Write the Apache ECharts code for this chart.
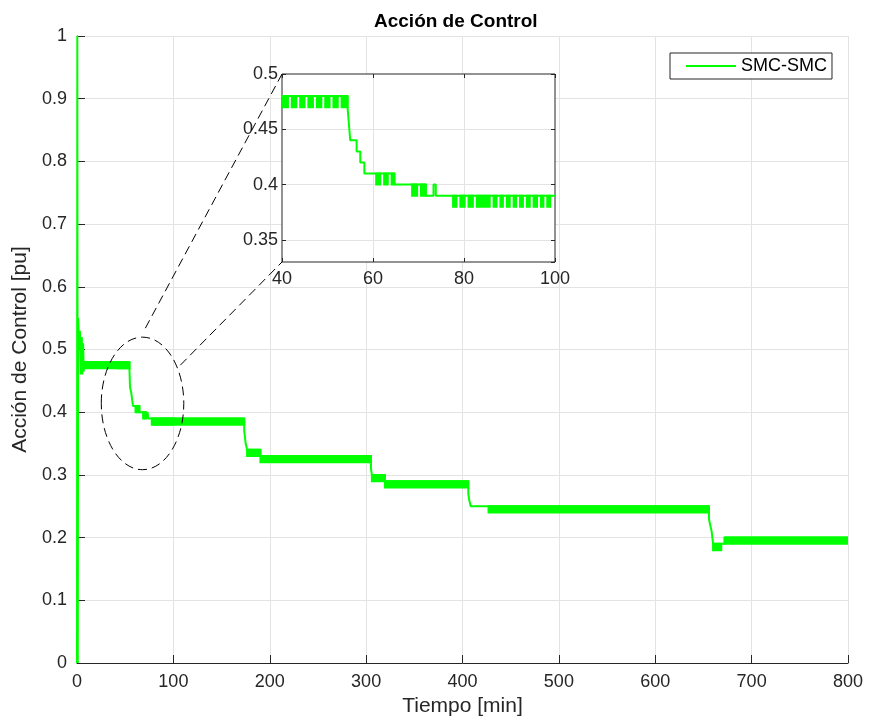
<!DOCTYPE html>
<html>
<head>
<meta charset="utf-8">
<title>Acción de Control</title>
<script src="https://cdn.jsdelivr.net/npm/echarts@6/dist/echarts.min.js"></script>
<style>
html, body { margin: 0; padding: 0; background: #fff; }
#chart { width: 869px; height: 727px; }
</style>
</head>
<body>
<div id="chart"></div>
<script>
// puntos de cambio de la accion de control (el valor se mantiene hasta el siguiente tiempo)
var traceT = [0, 0.3, 0.8, 1.2, 2.4, 3.0, 4.0, 5.0, 5.5, 6.3, 7.0, 7.3,
	54.4, 54.6, 54.8, 55.0, 56.4, 57.2, 58.1, 64.7, 71.6, 73.3, 73.8,
	173.5, 174.3, 175.0, 176.5, 190.3, 305, 306, 319.5, 406, 407, 408.5,
	655.7, 657, 658.5, 660, 668.5, 672, 800];
var traceV = [0, 1, 0, 0.55, 0.50, 0.53, 0.46, 0.52, 0.46, 0.51, 0.465, 0.48,
	0.47, 0.46, 0.45, 0.44, 0.43, 0.42, 0.41, 0.40, 0.39, 0.40, 0.39,
	0.37, 0.36, 0.35, 0.34, 0.33, 0.31, 0.30, 0.29, 0.27, 0.26, 0.25,
	0.23, 0.22, 0.21, 0.19, 0.19, 0.20, 0.20];

// zonas de chattering: la señal salta entre nivel bajo y alto
var bandStart = [7.3, 60.7, 68.6, 77.6, 176.5, 190.3, 306, 319.5, 427, 660, 672];
var bandEnd = [54.4, 64.7, 71.6, 173.5, 190.3, 305, 319.5, 406, 655.7, 668.5, 800];
var bandLow = [0.47, 0.40, 0.39, 0.38, 0.33, 0.32, 0.29, 0.28, 0.24, 0.18, 0.19];
var bandHigh = [0.48, 0.41, 0.40, 0.39, 0.34, 0.33, 0.30, 0.29, 0.25, 0.19, 0.20];

// pausas cortas del chattering (se queda en el nivel alto), visibles en el zoom
var notchTimes = [41.3, 43.15, 44.95, 46.8, 48.65, 50.45, 52.25, 61.6, 63.25, 69.7,
	78.35, 80.15, 81.95, 85.65, 87.15, 88.55, 90.05, 91.45, 92.95, 94.45, 96.05, 97.45, 98.95];
var notchLen = 0.85;

// zoom: ventana mostrada
var zoomX = [40, 100];
var zoomY = [0.33, 0.5];
// elipse de la zona ampliada (unidades de datos) y origen de las lineas
var ellipseC = [68, 0.414];
var ellipseR = [42.8, 0.1057];
var lineFrom = [[70.9, 0.534], [107.2, 0.475]];

var green = '#00ff00';
var axisColor = '#262626';
var gridColor = '#e3e3e3';
var font = '"Liberation Sans", Arial, Helvetica, sans-serif';

function traceData() {
	var res = [];
	for (var i = 0; i < traceT.length; i++) {
		res.push([traceT[i], traceV[i]]);
	}
	return res;
}

// trozos rellenos de las bandas (cortados en las pausas)
function bandPieces() {
	var res = [];
	for (var i = 0; i < bandStart.length; i++) {
		var cur = bandStart[i];
		var cuts = notchTimes.filter(function (t) {
			return t > bandStart[i] && t < bandEnd[i];
		});
		for (var j = 0; j < cuts.length; j++) {
			res.push([cur, cuts[j], bandLow[i], bandHigh[i]]);
			cur = cuts[j] + notchLen;
		}
		res.push([cur, bandEnd[i], bandLow[i], bandHigh[i]]);
	}
	return res;
}

function renderBand(params, api) {
	var p0 = api.coord([api.value(0), api.value(3)]);
	var p1 = api.coord([api.value(1), api.value(2)]);
	var cs = params.coordSys;
	var shape = echarts.graphic.clipRectByRect({
		x: p0[0], y: p0[1], width: p1[0] - p0[0], height: p1[1] - p0[1]
	}, {
		x: cs.x + 1, y: cs.y + 1, width: cs.width - 2, height: cs.height - 2
	});
	if (!shape) return;
	return {
		type: 'rect',
		shape: shape,
		style: { fill: green, stroke: green, lineWidth: 2 }
	};
}

var chart = echarts.init(document.getElementById('chart'));
var tickLabel = { color: axisColor, fontSize: 18, fontFamily: font };

chart.setOption({
	animation: false,
	backgroundColor: '#fff',
	title: {
		text: 'Acción de Control',
		left: 369,
		top: 7,
		textStyle: { color: '#000', fontSize: 19, fontWeight: 'bold', fontFamily: font }
	},
	legend: {
		data: [{ name: 'SMC-SMC', icon: 'rect' }],
		left: 670,
		top: 53,
		padding: [4, 5, 4, 16],
		itemWidth: 50,
		itemHeight: 2,
		borderColor: axisColor,
		borderWidth: 1,
		backgroundColor: '#fff',
		textStyle: { color: '#000', fontSize: 18, fontFamily: font }
	},
	grid: [
		{ left: 77, top: 36, width: 771, height: 627 },
		{ left: 282, top: 74, width: 273, height: 188, show: true, z: 3,
			backgroundColor: '#fff', borderColor: axisColor, borderWidth: 1 }
	],
	xAxis: [
		{
			gridIndex: 0, type: 'value', min: 0, max: 800, interval: 100,
			name: 'Tiempo [min]', nameLocation: 'middle', nameGap: 33,
			nameTextStyle: { color: axisColor, fontSize: 21, fontFamily: font },
			axisLine: { lineStyle: { color: axisColor } },
			axisTick: { inside: true, length: 8, lineStyle: { color: axisColor } },
			axisLabel: Object.assign({ margin: 10 }, tickLabel),
			splitLine: { show: true, showMinLine: false, lineStyle: { color: gridColor } }
		},
		{
			gridIndex: 1, type: 'value', min: zoomX[0], max: zoomX[1], interval: 20, z: 4,
			axisLine: { show: false },
			axisTick: { inside: true, length: 4, lineStyle: { color: axisColor } },
			axisLabel: Object.assign({ margin: 8 }, tickLabel),
			splitLine: { show: true, showMinLine: false, showMaxLine: false, lineStyle: { color: gridColor } }
		},
		{
			gridIndex: 1, type: 'value', position: 'top', min: zoomX[0], max: zoomX[1], interval: 20, z: 4,
			axisLine: { show: false },
			axisTick: { inside: true, length: 4, lineStyle: { color: axisColor } },
			axisLabel: { show: false },
			splitLine: { show: false }
		}
	],
	yAxis: [
		{
			gridIndex: 0, type: 'value', min: 0, max: 1, interval: 0.1,
			name: 'Acción de Control [pu]', nameLocation: 'middle', nameGap: 43,
			nameTextStyle: { color: axisColor, fontSize: 21, fontFamily: font },
			axisLine: { show: true, lineStyle: { color: axisColor } },
			axisTick: { show: true, inside: true, length: 8, lineStyle: { color: axisColor } },
			axisLabel: Object.assign({ margin: 10 }, tickLabel),
			splitLine: { show: true, showMinLine: false, lineStyle: { color: gridColor } }
		},
		{
			gridIndex: 1, type: 'value', min: zoomY[0], max: zoomY[1], splitNumber: 3, z: 4,
			axisLine: { show: false },
			axisTick: { show: true, inside: true, length: 4, lineStyle: { color: axisColor } },
			axisLabel: Object.assign({ margin: 4, showMinLabel: false }, tickLabel),
			splitLine: { show: true, showMinLine: false, showMaxLine: false, lineStyle: { color: gridColor } }
		},
		{
			gridIndex: 1, type: 'value', position: 'right', min: zoomY[0], max: zoomY[1], splitNumber: 3, z: 4,
			axisLine: { show: false },
			axisTick: { show: true, inside: true, length: 4, lineStyle: { color: axisColor } },
			axisLabel: { show: false },
			splitLine: { show: false }
		}
	],
	series: [
		{
			name: 'SMC-SMC',
			type: 'line',
			xAxisIndex: 0, yAxisIndex: 0,
			step: 'end',
			data: traceData(),
			showSymbol: false,
			symbol: 'none',
			lineStyle: { color: green, width: 2 },
			itemStyle: { color: green }
		},
		{
			name: 'bandas',
			type: 'custom',
			xAxisIndex: 0, yAxisIndex: 0,
			renderItem: renderBand,
			data: bandPieces(),
			encode: { x: [0, 1], y: [2, 3] },
			silent: true
		},
		{
			name: 'zoom',
			type: 'line',
			xAxisIndex: 1, yAxisIndex: 1,
			z: 5,
			step: 'end',
			data: traceData(),
			showSymbol: false,
			symbol: 'none',
			lineStyle: { color: green, width: 2 }
		},
		{
			name: 'zoom bandas',
			type: 'custom',
			xAxisIndex: 1, yAxisIndex: 1,
			z: 5,
			renderItem: renderBand,
			data: bandPieces(),
			encode: { x: [0, 1], y: [2, 3] },
			silent: true
		}
	]
});

// elipse y lineas discontinuas hacia el zoom
var c = chart.convertToPixel({ gridIndex: 0 }, ellipseC);
var cr = chart.convertToPixel({ gridIndex: 0 }, [ellipseC[0] + ellipseR[0], ellipseC[1] + ellipseR[1]]);
var a1 = chart.convertToPixel({ gridIndex: 0 }, lineFrom[0]);
var a2 = chart.convertToPixel({ gridIndex: 0 }, lineFrom[1]);
var b1 = chart.convertToPixel({ gridIndex: 1 }, [zoomX[0], zoomY[1]]);
var b2 = chart.convertToPixel({ gridIndex: 1 }, [zoomX[0], zoomY[0]]);
var dash = { stroke: '#000', lineWidth: 1, lineDash: [9, 5], fill: null };

chart.setOption({
	graphic: [
		{ type: 'ellipse', z: 10, silent: true,
			shape: { cx: c[0], cy: c[1], rx: cr[0] - c[0], ry: c[1] - cr[1] }, style: dash },
		{ type: 'line', z: 10, silent: true,
			shape: { x1: a1[0], y1: a1[1], x2: b1[0], y2: b1[1] }, style: dash },
		{ type: 'line', z: 10, silent: true,
			shape: { x1: a2[0], y1: a2[1], x2: b2[0], y2: b2[1] }, style: dash }
	]
});
</script>
</body>
</html>
